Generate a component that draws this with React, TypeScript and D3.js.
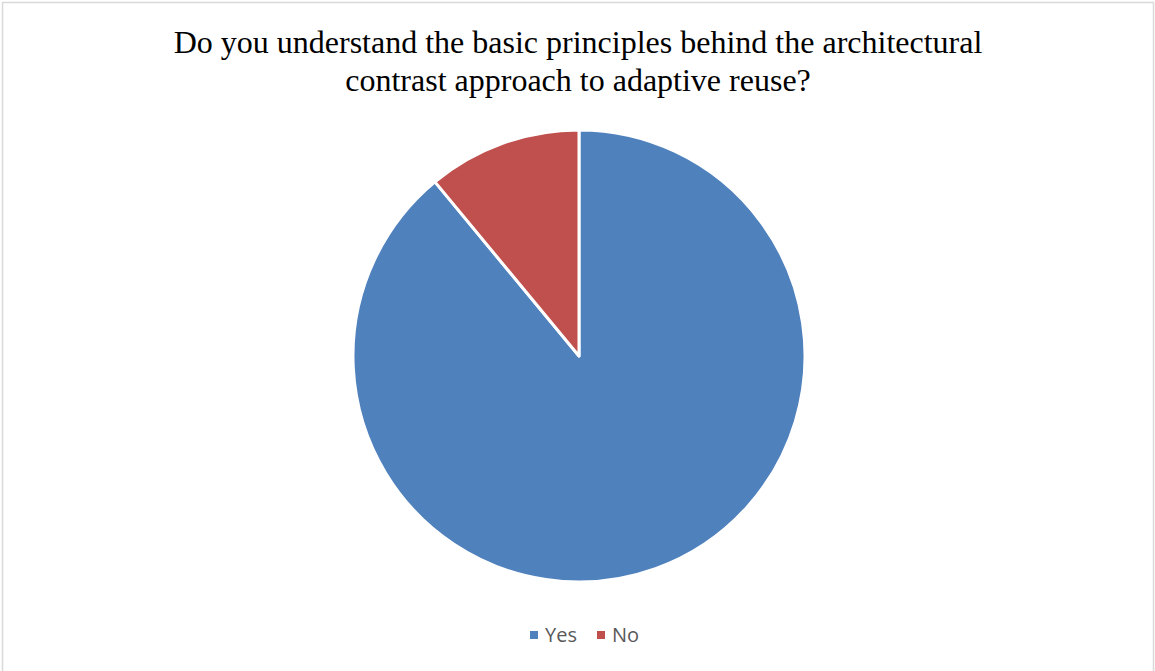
import React from "react";
import * as d3 from "d3";

const categories = ["Yes", "No"];
const values = [89, 11];
const colors = ["#4F81BD", "#C0504D"];
const titleLines = [
  "Do you understand the basic principles behind the architectural",
  "contrast approach to adaptive reuse?",
];

export default function App() {
  const W = 1155, H = 671;
  const cx = 579, cy = 356, r = 226;
  const pie = d3.pie<number>().sort(null).value((d) => d)(values);
  const arc = d3.arc<d3.PieArcDatum<number>>().innerRadius(0).outerRadius(r);
  const legendX = [530, 597];
  return (
    <svg width={W} height={H} style={{ position: "absolute", left: 0, top: 0, background: "#fff" }}>
      <rect x={2.5} y={2.5} width={1151} height={700} fill="#fff" stroke="#d9d9d9" strokeWidth={1.5} />
      {titleLines.map((t, i) => (
        <text key={i} x={578} y={53 + i * 38} textAnchor="middle"
          fontFamily="'Liberation Serif', 'Times New Roman', serif" fontSize={32} fill="#000">{t}</text>
      ))}
      <g transform={`translate(${cx},${cy})`}>
        {pie.map((p, i) => (
          <path key={i} d={arc(p) || ""} fill={colors[i]} stroke="#fff" strokeWidth={3} strokeLinejoin="round" />
        ))}
      </g>
      {categories.map((c, i) => (
        <g key={c}>
          <rect x={legendX[i]} y={631} width={8} height={8} fill={colors[i]} />
          <text x={legendX[i] + 15} y={642} fontFamily="'Open Sans', 'Liberation Sans', sans-serif"
            fontSize={20} fill="#595959">{c}</text>
        </g>
      ))}
    </svg>
  );
}
